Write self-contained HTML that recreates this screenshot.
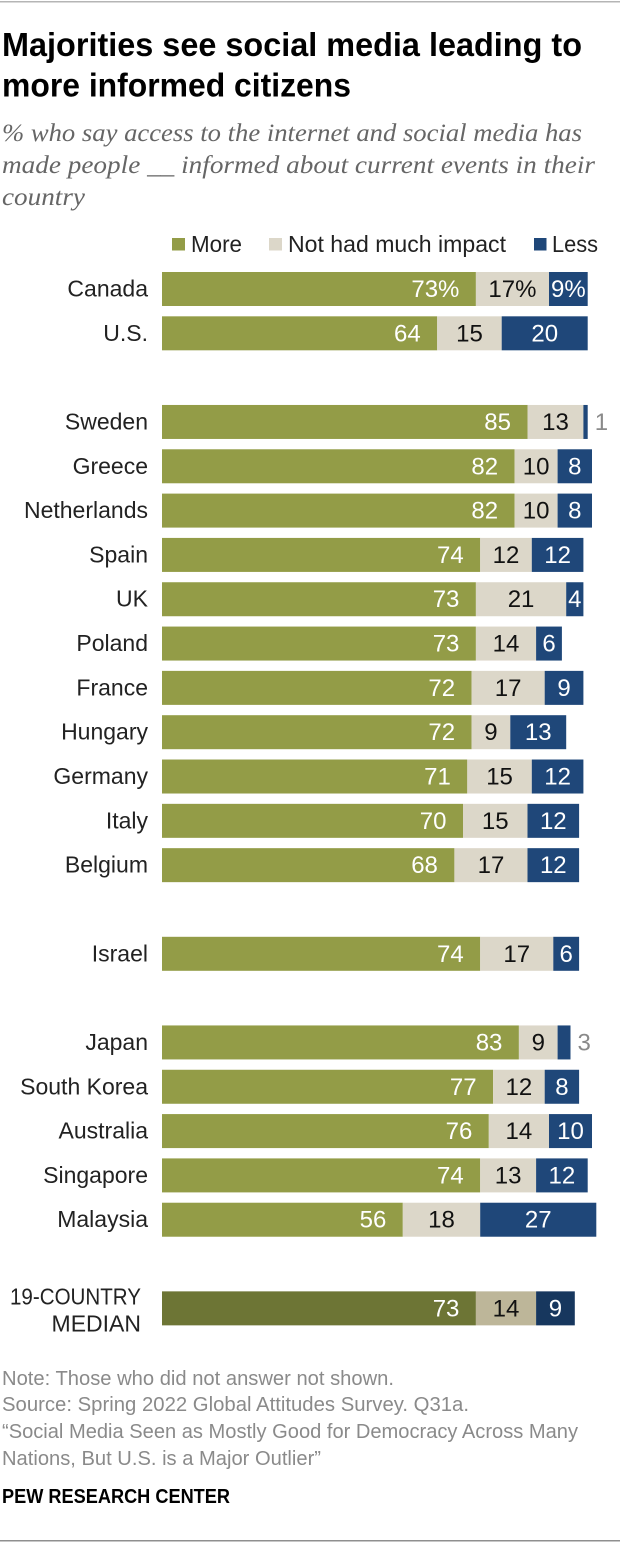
<!DOCTYPE html>
<html lang="en">
<head>
<meta charset="utf-8">
<title>Majorities see social media leading to more informed citizens</title>
<style>
html,body{margin:0;padding:0;background:#fff;}
svg{display:block;font-family:"Liberation Sans",sans-serif;}
</style>
</head>
<body>
<svg id="chart" xmlns="http://www.w3.org/2000/svg" width="620" height="1542" viewBox="0 0 620 1542">
  <rect x="0" y="1" width="620" height="1.5" fill="#b5b5b5"/>
  <g font-weight="700" font-size="33" fill="#000">
    <text x="2" y="56" textLength="580" lengthAdjust="spacingAndGlyphs">Majorities see social media leading to</text>
    <text x="2" y="96.500" textLength="349" lengthAdjust="spacingAndGlyphs">more informed citizens</text>
  </g>
  <g font-family="'Liberation Serif',serif" font-style="italic" font-size="25" fill="#666">
    <text x="2" y="141" textLength="580" lengthAdjust="spacingAndGlyphs">% who say access to the internet and social media has</text>
    <text x="2" y="173" textLength="593" lengthAdjust="spacingAndGlyphs">made people __ informed about current events in their</text>
    <text x="2" y="205" textLength="83" lengthAdjust="spacingAndGlyphs">country</text>
  </g>
  <g font-size="23" fill="#222">
    <rect x="172" y="238" width="13" height="12.500" fill="#939c47"/>
    <text x="191" y="252" textLength="51" lengthAdjust="spacingAndGlyphs">More</text>
    <rect x="269" y="238" width="13" height="12.500" fill="#dcd7c9"/>
    <text x="288" y="252" textLength="218" lengthAdjust="spacingAndGlyphs">Not had much impact</text>
    <rect x="534" y="238" width="12.500" height="12.500" fill="#1f4779"/>
    <text x="552" y="252" textLength="46" lengthAdjust="spacingAndGlyphs">Less</text>
  </g>
  <g id="bars"></g>
  <g font-size="20" fill="#8a8a8a">
    <text x="2" y="1385" textLength="392" lengthAdjust="spacingAndGlyphs">Note: Those who did not answer not shown.</text>
    <text x="2" y="1411" textLength="467" lengthAdjust="spacingAndGlyphs">Source: Spring 2022 Global Attitudes Survey. Q31a.</text>
    <text x="2" y="1438" textLength="576" lengthAdjust="spacingAndGlyphs">“Social Media Seen as Mostly Good for Democracy Across Many</text>
    <text x="2" y="1465" textLength="319" lengthAdjust="spacingAndGlyphs">Nations, But U.S. is a Major Outlier”</text>
  </g>
  <text x="2" y="1503" font-size="20.500" font-weight="700" fill="#000" textLength="228" lengthAdjust="spacingAndGlyphs">PEW RESEARCH CENTER</text>
  <rect x="0" y="1540" width="620" height="1.5" fill="#8f8f8f"/>
</svg>
<script>
const countries = ["Canada","U.S.","Sweden","Greece","Netherlands","Spain","UK","Poland","France","Hungary","Germany","Italy","Belgium","Israel","Japan","South Korea","Australia","Singapore","Malaysia","19-COUNTRY|MEDIAN"];
const regionGroups = [0,0,1,1,1,1,1,1,1,1,1,1,1,2,3,3,3,3,3,4];
const moreValues = [73,64,85,82,82,74,73,73,72,72,71,70,68,74,83,77,76,74,56,73];
const noImpactValues = [17,15,13,10,10,12,21,14,17,9,15,15,17,17,9,12,14,13,18,14];
const lessValues = [9,20,1,8,8,12,4,6,9,13,12,12,12,6,3,8,10,12,27,9];

const SVG_NS = 'http://www.w3.org/2000/svg';
const barsRoot = document.getElementById('bars');

function xScale(v) { return 162 + v * 4.3; }
function yScale(rowIndex) { return 272 + rowIndex * 44.32; }
function slug(s) { return s.toLowerCase().replace(/[^a-z0-9]+/g, '-').replace(/^-|-$/g, ''); }

function makeRect(x, y, w, h, fill) {
  const r = document.createElementNS(SVG_NS, 'rect');
  r.setAttribute('x', x);
  r.setAttribute('y', y);
  r.setAttribute('width', Math.max(0, w));
  r.setAttribute('height', h);
  r.setAttribute('fill', fill);
  return r;
}
function makeText(str, x, y, anchor, fill, size) {
  const t = document.createElementNS(SVG_NS, 'text');
  t.setAttribute('x', x);
  t.setAttribute('y', y);
  t.setAttribute('text-anchor', anchor);
  t.setAttribute('fill', fill);
  t.setAttribute('font-size', size);
  t.textContent = str;
  return t;
}

let row = 0;
countries.forEach(function (name, i) {
  if (i > 0 && regionGroups[i] !== regionGroups[i - 1]) row += 1;
  const y = yScale(row);
  const h = 34;
  const mid = y + h / 2 + 8;
  const isMedian = name.indexOf('|') >= 0;
  const suffix = i === 0 ? '%' : '';
  const a = moreValues[i], b = noImpactValues[i], c = lessValues[i];
  const x0 = xScale(0), x1 = xScale(a), x2 = xScale(a + b), x3 = xScale(a + b + c);
  const id = slug(name);

  const g = document.createElementNS(SVG_NS, 'g');
  
  
  barsRoot.appendChild(g);

  if (isMedian) {
    const parts = name.split('|');
    const l1 = makeText(parts[0], 141, y + 13, 'end', '#222', 23);
    
    
    l1.setAttribute('textLength', '131');
    l1.setAttribute('lengthAdjust', 'spacingAndGlyphs');
    g.appendChild(l1);
    const l2 = makeText(parts[1], 141, y + 40, 'end', '#222', 23);
    
    
    g.appendChild(l2);
  } else {
    const label = makeText(name, 148, mid - 0.5, 'end', '#222', 23);
    
    
    g.appendChild(label);
  }

  const moreBar = makeRect(x0, y, x1 - x0, h, isMedian ? '#6d7535' : '#939c47');
  
  
  g.appendChild(moreBar);

  const impactBar = makeRect(x1, y, x2 - x1, h, isMedian ? '#bdb699' : '#dcd7c9');
  
  
  g.appendChild(impactBar);

  const lessBar = makeRect(x2, y, x3 - x2, h, isMedian ? '#17375e' : '#1f4779');
  
  
  g.appendChild(lessBar);

  const moreLabel = makeText(a + suffix, x1 - 16.5, mid, 'end', '#fff', 24);
  
  
  g.appendChild(moreLabel);

  const impactLabel = makeText(b + suffix, (x1 + x2) / 2, mid, 'middle', '#111', 24);
  
  
  g.appendChild(impactLabel);

  const outside = c <= 3;
  const lessLabel = outside
    ? makeText(c + suffix, x3 + 7, mid, 'start', '#8a8a8a', 24)
    : makeText(c + suffix, (x2 + x3) / 2, mid, 'middle', '#fff', 24);
  
  
  g.appendChild(lessLabel);

  row += 1;
});
</script>
</body>
</html>
